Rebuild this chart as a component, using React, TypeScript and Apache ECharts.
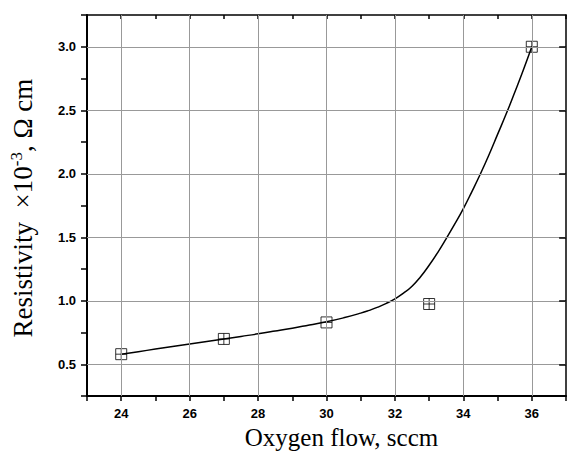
import React, { useEffect, useRef } from "react";
import * as echarts from "echarts";

// Measured points
const flow = [24, 27, 30, 33, 36];
const resistivity = [0.58, 0.7, 0.83, 0.975, 3.0];

// Fitted curve
const fitFlow = [
  24, 24.5, 25, 25.5, 26, 26.5, 27, 27.5, 28, 28.5, 29, 29.5, 30, 30.5, 31,
  31.25, 31.5, 31.75, 32, 32.25, 32.5, 32.75, 33, 33.25, 33.5, 33.75, 34,
  34.25, 34.5, 34.75, 35, 35.25, 35.5, 35.75, 36,
];
const fitResistivity = [
  0.58, 0.6, 0.62, 0.64, 0.66, 0.68, 0.7, 0.72, 0.74, 0.762, 0.785, 0.81, 0.835, 0.866, 0.903,
  0.925, 0.95, 0.98, 1.016, 1.06, 1.115, 1.19, 1.28, 1.38, 1.49, 1.605, 1.726,
  1.86, 2.0, 2.15, 2.31, 2.47, 2.64, 2.815, 3.0,
];

// Grid / tick positions
const xGrid = [24, 26, 28, 30, 32, 34, 36];
const yGrid = [0.5, 1.0, 1.5, 2.0, 2.5, 3.0];

const X_MIN = 23;
const X_MAX = 37;
const Y_MIN = 0.25;
const Y_MAX = 3.25;

export default function App() {
  const ref = useRef<HTMLDivElement>(null);
  useEffect(() => {
    if (!ref.current) return;
    const chart = echarts.init(ref.current, null, { renderer: "svg" });
    const labelFont = {
      fontFamily: "Liberation Sans",
      fontWeight: "bold" as const,
      fontSize: 13,
      color: "#000",
    };
    const gridLineData: any[] = [
      ...xGrid.map((v) => ({ xAxis: v })),
      ...yGrid.map((v) => ({ yAxis: v })),
    ];
    const rightTicks: any[] = yGrid.map((v) => [
      { coord: [X_MAX - 0.2, v] },
      { coord: [X_MAX, v] },
    ]);
    chart.setOption({
      animation: false,
      backgroundColor: "#fff",
      grid: { left: 83, top: 15, width: 488, height: 395, containLabel: false },
      xAxis: [
        {
          type: "value",
          min: X_MIN,
          max: X_MAX,
          interval: 1,
          position: "bottom",
          axisLine: { show: true, lineStyle: { color: "#000", width: 2 } },
          axisTick: { show: true, inside: false, length: 5, lineStyle: { color: "#000", width: 1.5 } },
          axisLabel: {
            ...labelFont,
            margin: 11,
            showMinLabel: true,
            showMaxLabel: true,
            formatter: (v: number) => (xGrid.some((g) => Math.abs(g - v) < 1e-6) ? String(v) : ""),
          },
          splitLine: { show: false },
          name: "Oxygen flow, sccm",
          nameLocation: "middle",
          nameGap: 20,
          nameTextStyle: {
            fontFamily: "Liberation Serif",
            fontSize: 25,
            color: "#000",
            padding: [0, 0, 0, 30],
          },
        },
        {
          type: "value",
          min: X_MIN,
          max: X_MAX,
          interval: 1,
          position: "top",
          axisLine: { show: true, lineStyle: { color: "#000", width: 1.5 } },
          axisTick: { show: true, inside: true, length: 4, lineStyle: { color: "#000", width: 1.5 } },
          axisLabel: { show: false },
          splitLine: { show: false },
        },
      ],
      yAxis: [
        {
          type: "value",
          min: Y_MIN,
          max: Y_MAX,
          interval: 0.25,
          position: "left",
          axisLine: { show: true, lineStyle: { color: "#000", width: 2 } },
          axisTick: { show: true, inside: false, length: 6, lineStyle: { color: "#000", width: 1.5 } },
          axisLabel: {
            ...labelFont,
            margin: 11,
            formatter: (v: number) =>
              yGrid.some((g) => Math.abs(g - v) < 1e-6) ? v.toFixed(1) : "",
          },
          splitLine: { show: false },
          name: "{a|Resistivity  ×10}{s|-3}{a|, Ω cm}",
          nameLocation: "middle",
          nameRotate: 90,
          nameGap: 49,
          nameTextStyle: {
            fontFamily: "Liberation Serif",
            fontSize: 27,
            color: "#000",
            padding: [0, 5, 0, 0],
            rich: {
              a: { fontFamily: "Liberation Serif", fontSize: 27, color: "#000", lineHeight: 30 },
              s: { fontFamily: "Liberation Serif", fontSize: 17, color: "#000", verticalAlign: "top", lineHeight: 30 },
            },
          },
        },
        {
          type: "value",
          min: Y_MIN,
          max: Y_MAX,
          interval: 0.25,
          position: "right",
          axisLine: { show: true, lineStyle: { color: "#000", width: 1.5 } },
          axisTick: { show: false },
          axisLabel: { show: false },
          splitLine: { show: false },
        },
      ],
      series: [
        {
          type: "line",
          data: [],
          z: 1,
          silent: true,
          markLine: {
            silent: true,
            symbol: "none",
            label: { show: false },
            lineStyle: { color: "#999", width: 1, type: "solid" },
            data: gridLineData,
          },
        },
        {
          type: "line",
          data: [],
          z: 1,
          silent: true,
          markLine: {
            silent: true,
            symbol: "none",
            label: { show: false },
            lineStyle: { color: "#000", width: 1.5, type: "solid" },
            data: rightTicks,
          },
        },
        {
          type: "line",
          name: "fit",
          data: fitFlow.map((x, i) => [x, fitResistivity[i]]),
          smooth: 0.5,
          showSymbol: false,
          lineStyle: { color: "#000", width: 1.5 },
          z: 3,
        },
        {
          type: "scatter",
          name: "measured",
          data: flow.map((x, i) => [x, resistivity[i]]),
          symbol: "path://M0,0L10,0L10,10L0,10ZM5,0L5,10M0,5L10,5",
          symbolSize: 11,
          itemStyle: { color: "rgba(255,255,255,0)", borderColor: "#000", borderWidth: 1 },
          z: 4,
        },
      ],
    });
    return () => chart.dispose();
  }, []);
  return (
    <div
      ref={ref}
      style={{ position: "fixed", left: 0, top: 0, width: 569, height: 455 }}
    />
  );
}
